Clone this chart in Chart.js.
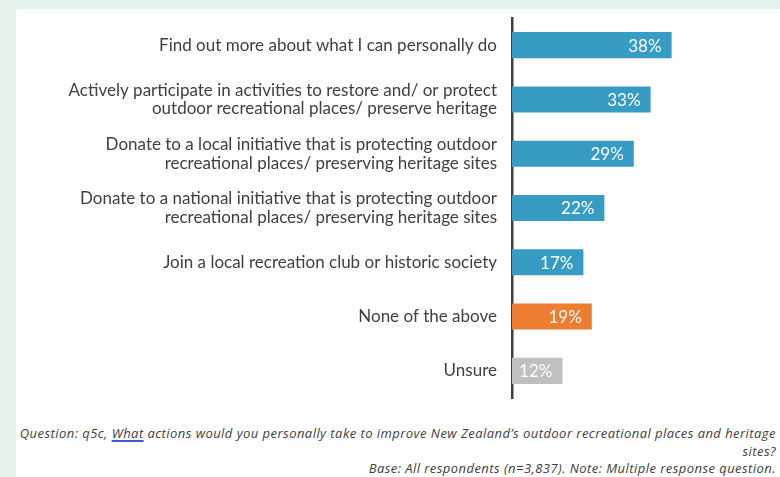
<!DOCTYPE html>
<html>
<head>
<meta charset="utf-8">
<script src="https://cdn.jsdelivr.net/npm/chart.js@4.4.1/dist/chart.umd.min.js"></script>
<style>
  html, body { margin: 0; padding: 0; }
  body { width: 780px; height: 477px; background: #e4f2ea; position: relative; overflow: hidden; }
  #panel { position: absolute; left: 16px; top: 9px; width: 764px; height: 468px; background: #ffffff; }
  #chart-wrap { position: absolute; left: 0; top: 0; width: 764px; height: 400px; }
  #footer {
    position: absolute; right: 4px; top: 416px; text-align: right;
    font-family: "Open Sans", sans-serif; font-style: italic; font-size: 13px; line-height: 17.5px;
    letter-spacing: 0.45px;
    color: #404040; white-space: nowrap;
  }
  #footer .spell { text-decoration: underline; text-decoration-color: #3b5fc0; text-decoration-thickness: 2px; text-underline-offset: 2px; }
</style>
</head>
<body>
<div id="panel">
  <div id="chart-wrap"><canvas id="chart" width="764" height="400"></canvas></div>
  <div id="footer">
    Question: q5c, <span class="spell">What</span> actions would you personally take to improve New Zealand’s outdoor recreational places and heritage<br>
    sites?<br>
    Base: All respondents (n=3,837). Note: Multiple response question.
  </div>
</div>
<script>
// Chart data
const categories = [
    ["Find out more about what I can personally do"],
    ["Actively participate in activities to restore and/ or protect", "outdoor recreational places/ preserve heritage"],
    ["Donate to a local initiative that is protecting outdoor", "recreational places/ preserving heritage sites"],
    ["Donate to a national initiative that is protecting outdoor", "recreational places/ preserving heritage sites"],
    ["Join a local recreation club or historic society"],
    ["None of the above"],
    ["Unsure"]
];
const values = [38, 33, 29, 22, 17, 19, 12];

// Bar colours (blue for actions, orange for none, grey for unsure)
const BLUE = '#379cc4';
const ORANGE = '#ed7d31';
const GREY = '#bfbfbf';
const barColors = [BLUE, BLUE, BLUE, BLUE, BLUE, ORANGE, GREY];

// Draw the percentage inside the end of each bar
const valueLabels = {
    id: 'valueLabels',
    afterDatasetsDraw(chart) {
        const ctx = chart.ctx;
        const meta = chart.getDatasetMeta(0);
        ctx.save();
        ctx.font = '17px Lato, sans-serif';
        ctx.fillStyle = '#ffffff';
        ctx.textAlign = 'right';
        ctx.textBaseline = 'middle';
        meta.data.forEach((bar, i) => {
            ctx.fillText(values[i] + '%', bar.x - 10, bar.y + 1);
        });
        ctx.restore();
    }
};

new Chart(document.getElementById('chart').getContext('2d'), {
    type: 'bar',
    data: {
        labels: categories,
        datasets: [{
            data: values,
            backgroundColor: barColors,
            borderWidth: 0,
            barPercentage: 0.48,
            categoryPercentage: 1
        }]
    },
    options: {
        indexAxis: 'y',
        responsive: false,
        animation: false,
        layout: { padding: { top: 9, bottom: 11, left: 0, right: 16 } },
        plugins: {
            legend: { display: false },
            tooltip: { enabled: false }
        },
        scales: {
            x: {
                display: false,
                min: 0,
                max: 60
            },
            y: {
                afterFit(scale) {
                    scale.width = 496;
                    // don't let the label overhang push the plot area down
                    scale.paddingTop = 0;
                    scale.paddingBottom = 0;
                },
                grid: { display: false },
                border: { display: true, color: '#404040', width: 2.5 },
                ticks: {
                    color: '#404040',
                    padding: 7,
                    font: { family: 'Lato, sans-serif', size: 17, lineHeight: 1.1 }
                }
            }
        }
    },
    plugins: [valueLabels]
});
</script>
</body>
</html>
